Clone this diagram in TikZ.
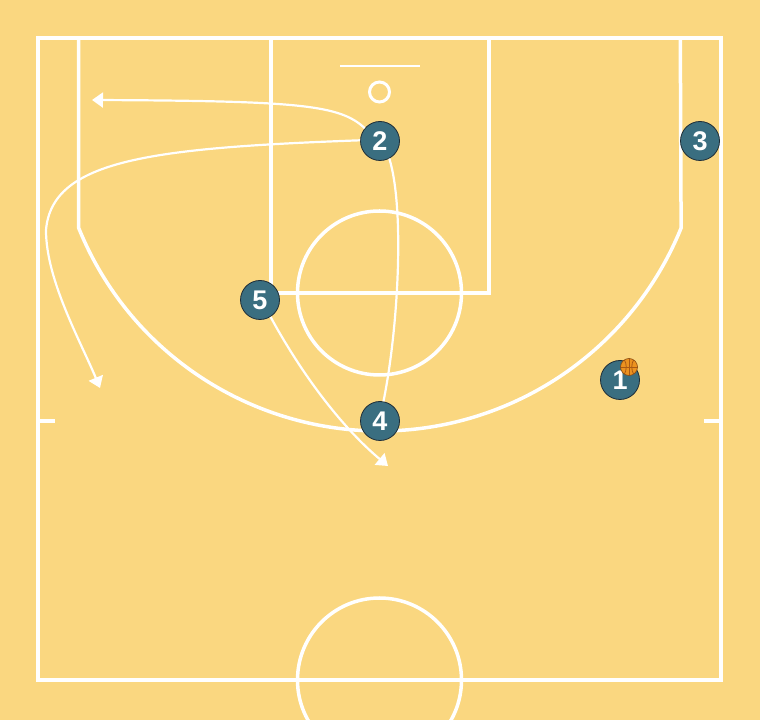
\documentclass[tikz,border=0pt]{standalone}
\usepackage{fontspec}
\newfontfamily\numfont{Liberation Sans}
\usetikzlibrary{arrows.meta}
\definecolor{courtbg}{RGB}{250,215,128}
\definecolor{playerfill}{RGB}{58,110,128}
\definecolor{playeredge}{RGB}{30,45,55}
\definecolor{ballorange}{RGB}{236,146,32}
\definecolor{ballseam}{RGB}{170,90,20}
\tikzset{
  courtline/.style={draw=white, line width=3.5pt},
  thinline/.style={draw=white, line width=1.5pt},
  moveline/.style={draw=white, line width=2.2pt},
  movearrow/.style={moveline, -{Triangle[length=11pt,width=15pt]}},
  player/.style={circle, fill=playerfill, draw=playeredge, line width=0.8pt,
    minimum size=39pt, inner sep=0pt, text=white,
    font=\numfont\bfseries\fontsize{27}{27}\selectfont}
}
\begin{document}
\begin{tikzpicture}[x=1pt,y=1pt]
\useasboundingbox (0,0) rectangle (760,720);
\fill[courtbg] (0,0) rectangle (760,720);
\begin{scope}
\clip (0,0) rectangle (760,720);
% court outline
\draw[courtline] (38,40) rectangle (721,682);
% lane
\draw[courtline] (271,682) -- (271,427) -- (489,427) -- (489,682);
% free throw circle
\draw[courtline] (379.5,427) circle[radius=82];
% three point line
\draw[courtline] (78.7,682) -- (78.7,492) arc[start angle=202.06, end angle=337.94, radius=325] -- (680.3,682);
% backboard and rim
\draw[thinline] (340,654) -- (420,654);
\draw[white, line width=3pt] (379.5,628) circle[radius=10];
% half court ticks
\draw[courtline] (38,299) -- (55,299);
\draw[courtline] (704,299) -- (721,299);
% center circle
\draw[courtline] (379.5,40) circle[radius=82];
\end{scope}

% players
\node[player] (p1) at (620,340) {1};
\node[player] (p2) at (380,579) {2};
\node[player] (p3) at (700,579) {3};
\node[player] (p4) at (380,299) {4};
\node[player] (p5) at (260,420) {5};

% ball
\coordinate (ball) at (629,353);
\fill[ballorange] (ball) circle[radius=8.5];
\begin{scope}[shift={(629,353)}]
\clip (0,0) circle[radius=8.5];
\draw[ballseam, line width=0.8pt] (-8.5,0) -- (8.5,0);
\draw[ballseam, line width=0.8pt] (0,-8.5) -- (0,8.5);
\draw[ballseam, line width=0.8pt] (-5,-8) .. controls (-2,-3) and (-2,3) .. (-5,8);
\draw[ballseam, line width=0.8pt] (5,-8) .. controls (2,-3) and (2,3) .. (5,8);
\end{scope}
\draw[ballseam!80!black, line width=0.6pt] (ball) circle[radius=8.5];

% movement arrows
\coordinate (e1) at (92,620);
\coordinate (e2) at (100,332);
\coordinate (m2) at (46,490);
\coordinate (e5) at (388,254);

\draw[movearrow] (p2.140) .. controls (340,615) and (300,619) .. (e1);
\draw[movearrow] (p2.178) .. controls (150,572) and (52,560) .. (m2)
   .. controls (46,440) and (80,380) .. (e2);
\draw[moveline] (p2.-62) .. controls (405,510) and (398,390) .. (p4.80);
\draw[movearrow] (p5.-58) .. controls (305,340) and (345,290) .. (e5);
\end{tikzpicture}
\end{document}
